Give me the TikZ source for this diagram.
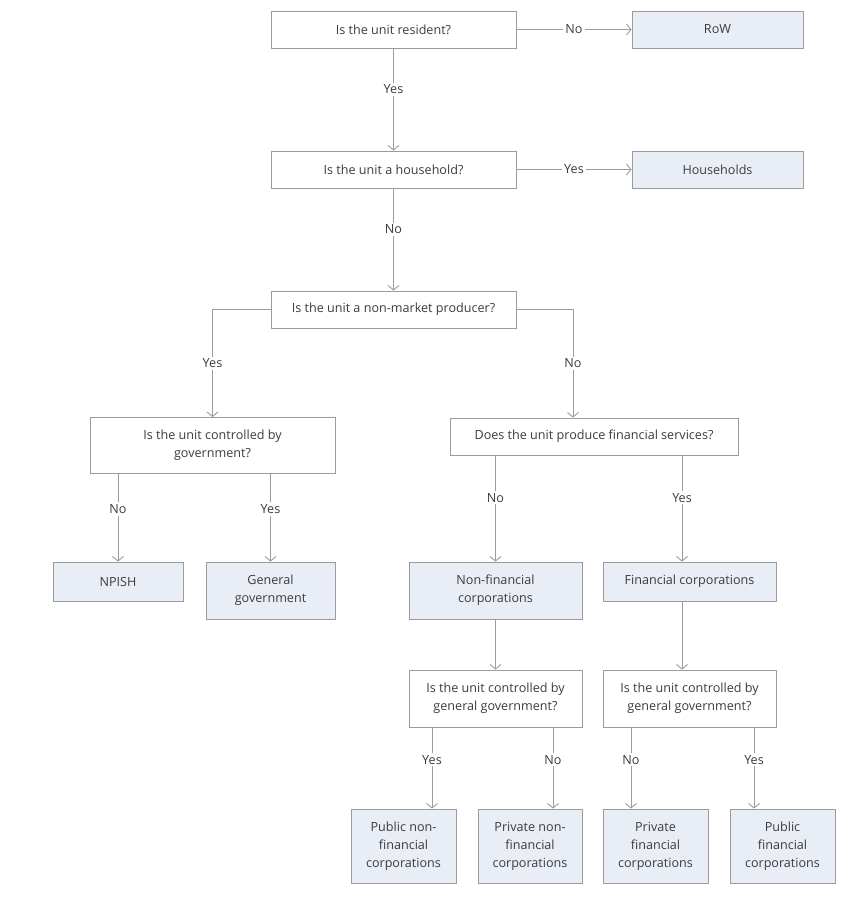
\documentclass[tikz,border=0pt]{standalone}
\usepackage{fontspec}
\setmainfont{Open Sans}
\usetikzlibrary{arrows.meta,calc}
\definecolor{linegray}{HTML}{9B9B9B}
\definecolor{boxfill}{HTML}{E9EDF5}
\definecolor{txt}{HTML}{3C3C3C}
\begin{document}
\begin{tikzpicture}[x=1pt,y=-1pt,
  font=\fontsize{12.6}{18}\selectfont,
  every node/.style={text=txt},
  qbox/.style={draw=linegray,line width=0.9pt,fill=white,inner sep=0pt,align=center},
  abox/.style={draw=linegray,line width=0.9pt,fill=boxfill,inner sep=0pt,align=center},
  conn/.style={draw=linegray,line width=0.9pt,-{Straight Barb[length=4.5pt,width=11pt,line width=0.9pt]}},
  lbl/.style={fill=white,inner sep=2pt}]
\useasboundingbox (0,0) rectangle (852,898);

% question boxes
\node[qbox,minimum width=245,minimum height=37] (r) at (393.5,29.5) {Is the unit resident?};
\node[qbox,minimum width=245,minimum height=37] (h) at (393.5,169.5) {Is the unit a household?};
\node[qbox,minimum width=245,minimum height=37] (nm) at (393.5,309.5) {Is the unit a non-market producer?};
\node[qbox,minimum width=245,minimum height=56] (cg) at (212.5,445.5) {Is the unit controlled by\\government?};
\node[qbox,minimum width=288,minimum height=37] (fs) at (594,436.5) {Does the unit produce financial services?};
\node[qbox,minimum width=173,minimum height=57] (c2) at (495.5,698.5) {Is the unit controlled by\\general government?};
\node[qbox,minimum width=173,minimum height=57] (c3) at (689.5,698.5) {Is the unit controlled by\\general government?};

% answer boxes
\node[abox,minimum width=171,minimum height=37] (row) at (717.5,29.5) {RoW};
\node[abox,minimum width=171,minimum height=37] (hh) at (717.5,169.5) {Households};
\node[abox,minimum width=130,minimum height=39] (np) at (118,581.5) {NPISH};
\node[abox,minimum width=129,minimum height=57] (gg) at (270.5,590.5) {General\\government};
\node[abox,minimum width=173,minimum height=57] (nf) at (495.5,590.5) {Non-financial\\corporations};
\node[abox,minimum width=173,minimum height=39] (fc) at (689.5,581.5) {Financial corporations};
\node[abox,minimum width=105,minimum height=74] (pubnf) at (403.5,846) {Public non-\\financial\\corporations};
\node[abox,minimum width=104,minimum height=74] (privnf) at (530,846) {Private non-\\financial\\corporations};
\node[abox,minimum width=105,minimum height=74] (privf) at (655.5,846) {Private\\financial\\corporations};
\node[abox,minimum width=105,minimum height=74] (pubf) at (782.5,846) {Public\\financial\\corporations};

% connectors
\draw[conn] (r) -- node[lbl]{No} (row);
\draw[conn] (r) -- node[lbl,pos=0.4]{Yes} (h);
\draw[conn] (h) -- node[lbl]{Yes} (hh);
\draw[conn] (h) -- node[lbl,pos=0.4]{No} (nm);
\draw[conn] (nm.west) -| node[lbl,pos=0.75]{Yes} (cg.north);
\draw[conn] (nm.east) -| node[lbl,pos=0.75]{No} ([xshift=-21]fs.north);
\draw[conn] (cg.south -| np.north) -- node[lbl,pos=0.4]{No} (np.north);
\draw[conn] (cg.south -| gg.north) -- node[lbl,pos=0.4]{Yes} (gg.north);
\draw[conn] (fs.south -| nf.north) -- node[lbl,pos=0.4]{No} (nf.north);
\draw[conn] ([xshift=-7.5]fs.south -| fc.north) -- node[lbl,pos=0.4]{Yes} ([xshift=-7.5]fc.north);
\draw[conn] (nf.south) -- (c2.north);
\draw[conn] ([xshift=-7.5]fc.south) -- ([xshift=-7.5]c3.north);
\draw[conn] ([xshift=28.5]c2.south -| pubnf.north) -- node[lbl,pos=0.4]{Yes} ([xshift=28.5]pubnf.north);
\draw[conn] ([xshift=23]c2.south -| privnf.north) -- node[lbl,pos=0.4]{No} ([xshift=23]privnf.north);
\draw[conn] ([xshift=-24.5]c3.south -| privf.north) -- node[lbl,pos=0.4]{No} ([xshift=-24.5]privf.north);
\draw[conn] ([xshift=-28.5]c3.south -| pubf.north) -- node[lbl,pos=0.4]{Yes} ([xshift=-28.5]pubf.north);
\end{tikzpicture}
\end{document}
